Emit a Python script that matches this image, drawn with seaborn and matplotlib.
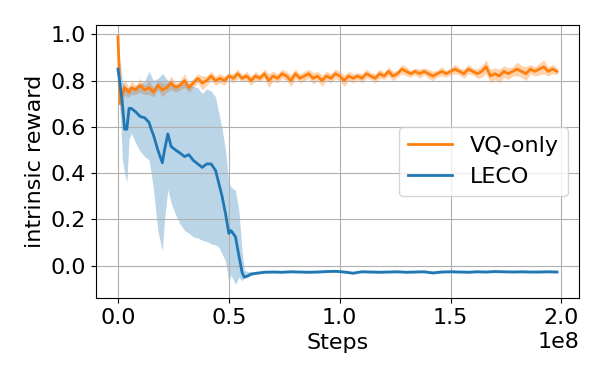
import numpy as np
import pandas as pd
import matplotlib
matplotlib.use("Agg")
import matplotlib.pyplot as plt
import seaborn as sns

# steps in millions
vq_steps = [0, 0.5, 1, 2, 3, 4, 5, 6] + list(range(8, 200, 2))
vq_mean = [0.99, 0.86, 0.70, 0.74, 0.77, 0.76, 0.75, 0.77,
           0.76, 0.78, 0.76, 0.77, 0.75, 0.78, 0.76, 0.77, 0.79, 0.77,
           0.78, 0.80, 0.77, 0.79, 0.81, 0.79, 0.80, 0.82, 0.80, 0.81,
           0.80, 0.82, 0.81, 0.83, 0.81, 0.82, 0.80, 0.82, 0.81, 0.83,
           0.80, 0.82, 0.81, 0.83, 0.82, 0.80, 0.83, 0.81, 0.82, 0.83,
           0.81, 0.82, 0.80, 0.82, 0.81, 0.83, 0.82, 0.80, 0.82, 0.81,
           0.82, 0.81, 0.83, 0.82, 0.81, 0.83, 0.82, 0.84, 0.82, 0.83,
           0.85, 0.84, 0.83, 0.84, 0.83, 0.84, 0.83, 0.82, 0.83, 0.84,
           0.83, 0.84, 0.85, 0.84, 0.83, 0.85, 0.84, 0.83, 0.84, 0.86,
           0.82, 0.83, 0.82, 0.84, 0.83, 0.84, 0.85, 0.84, 0.83, 0.85,
           0.84, 0.85, 0.86, 0.84, 0.85, 0.84]
vq_spread = [0.01, 0.05, 0.06, 0.04, 0.03, 0.03, 0.02, 0.03,
             0.02, 0.03, 0.02, 0.03, 0.02, 0.02, 0.03, 0.02, 0.03, 0.02,
             0.02, 0.03, 0.02, 0.02, 0.02, 0.03, 0.02, 0.02, 0.02, 0.02,
             0.02, 0.015, 0.02, 0.02, 0.015, 0.02, 0.02, 0.02, 0.015, 0.02,
             0.03, 0.02, 0.02, 0.02, 0.02, 0.025, 0.02, 0.02, 0.02, 0.02,
             0.025, 0.02, 0.025, 0.02, 0.02, 0.02, 0.02, 0.025, 0.02, 0.02,
             0.015, 0.02, 0.02, 0.015, 0.02, 0.02, 0.015, 0.02, 0.02, 0.015,
             0.02, 0.02, 0.015, 0.015, 0.02, 0.015, 0.02, 0.02, 0.015, 0.02,
             0.015, 0.015, 0.02, 0.015, 0.02, 0.02, 0.015, 0.02, 0.025, 0.03,
             0.03, 0.025, 0.03, 0.025, 0.025, 0.02, 0.03, 0.025, 0.03, 0.02,
             0.02, 0.025, 0.03, 0.02, 0.02, 0.015]

leco_steps = [0, 1, 2, 3, 4, 5, 6, 8, 10, 12, 14, 15, 16, 18, 20, 21, 22.5,
              24, 26, 28, 30, 32, 34, 36, 38, 40, 42, 44, 45.5, 47, 48.5,
              50, 51, 53, 54.5, 56, 57, 58.5, 60, 62] + list(range(66, 200, 4))
leco_mean = [0.85, 0.78, 0.70, 0.59, 0.59, 0.68, 0.68, 0.665, 0.645, 0.64,
             0.62, 0.59, 0.565, 0.50, 0.445, 0.50, 0.57, 0.515, 0.50, 0.487,
             0.472, 0.48, 0.455, 0.44, 0.425, 0.44, 0.44, 0.412, 0.356, 0.298,
             0.225, 0.14, 0.152, 0.125, 0.045, -0.03, -0.05, -0.044, -0.036, -0.033,
             -0.028, -0.027, -0.028, -0.026, -0.027, -0.028, -0.027, -0.025, -0.024,
             -0.027, -0.032, -0.026, -0.027, -0.028, -0.027, -0.026, -0.028, -0.027,
             -0.026, -0.031, -0.027, -0.026, -0.027, -0.028, -0.026, -0.027, -0.025,
             -0.026, -0.027, -0.026, -0.027, -0.027, -0.026, -0.027]
leco_hi = [0.92, 0.88, 0.80, 0.78, 0.77, 0.77, 0.76, 0.78, 0.78, 0.80,
           0.84, 0.82, 0.80, 0.81, 0.83, 0.82, 0.80, 0.79, 0.78, 0.78,
           0.79, 0.785, 0.775, 0.77, 0.745, 0.765, 0.755, 0.73, 0.66, 0.59,
           0.50, 0.36, 0.34, 0.325, 0.24, 0.06, -0.02, -0.025, -0.028, -0.028,
           -0.024, -0.023, -0.024, -0.022, -0.023, -0.024, -0.023, -0.021, -0.020,
           -0.023, -0.027, -0.022, -0.023, -0.024, -0.023, -0.022, -0.024, -0.023,
           -0.022, -0.026, -0.023, -0.022, -0.023, -0.024, -0.022, -0.023, -0.021,
           -0.022, -0.023, -0.022, -0.023, -0.023, -0.022, -0.023]
leco_lo = [0.83, 0.67, 0.46, 0.40, 0.36, 0.545, 0.574, 0.53, 0.494, 0.472,
           0.458, 0.40, 0.33, 0.15, 0.065, 0.20, 0.33, 0.27, 0.22, 0.18,
           0.153, 0.14, 0.125, 0.12, 0.11, 0.105, 0.095, 0.09, 0.08, 0.05,
           0.02, -0.07, -0.04, -0.08, -0.05, -0.065, -0.05, -0.05, -0.042, -0.038,
           -0.033, -0.032, -0.033, -0.031, -0.032, -0.033, -0.032, -0.030, -0.029,
           -0.032, -0.037, -0.031, -0.032, -0.033, -0.032, -0.031, -0.033, -0.032,
           -0.031, -0.036, -0.032, -0.031, -0.032, -0.033, -0.031, -0.032, -0.030,
           -0.031, -0.032, -0.031, -0.032, -0.032, -0.031, -0.032]

vq = pd.DataFrame({"step": np.array(vq_steps) * 1e6, "mean": vq_mean, "spread": vq_spread})
leco = pd.DataFrame({"step": np.array(leco_steps) * 1e6, "mean": leco_mean,
                     "lo": leco_lo, "hi": leco_hi})

plt.rcParams["font.size"] = 16
fig, ax = plt.subplots(figsize=(6, 3.75), dpi=100)

orange = "#ff7f0e"
blue = "#1f77b4"

ax.fill_between(vq["step"], vq["mean"] - vq["spread"], vq["mean"] + vq["spread"],
                color=orange, alpha=0.35, linewidth=0)
sns.lineplot(data=vq, x="step", y="mean", color=orange, linewidth=2,
             label="VQ-only", ax=ax)

ax.fill_between(leco["step"], leco["lo"], leco["hi"], color=blue, alpha=0.3, linewidth=0)
sns.lineplot(data=leco, x="step", y="mean", color=blue, linewidth=2,
             label="LECO", ax=ax)

ax.set_ylim(-0.14, 1.04)
ax.set_xlabel("Steps", fontsize=16)
ax.set_ylabel("intrinsic reward", fontsize=16)
ax.grid(True)
ax.legend(loc="center right", fontsize=16)

fig.subplots_adjust(left=0.16, right=0.965, top=0.933, bottom=0.205)
fig.savefig("out.png", dpi=100)
